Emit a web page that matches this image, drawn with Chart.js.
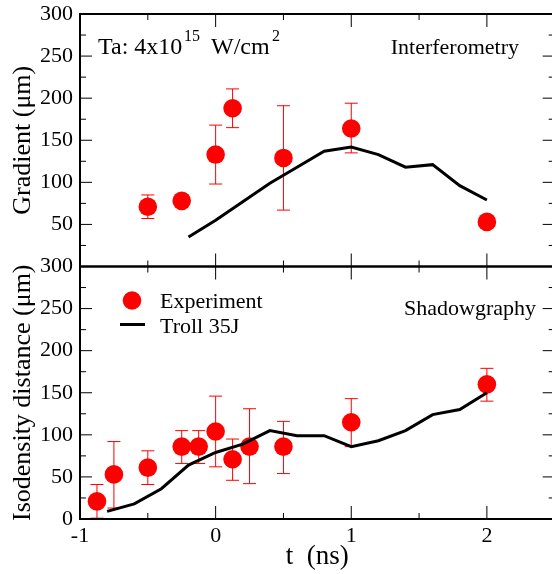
<!DOCTYPE html>
<html><head><meta charset="utf-8">
<script src="https://cdn.jsdelivr.net/npm/chart.js@4.4.0/dist/chart.umd.min.js"></script>
<style>html,body{margin:0;padding:0;background:#fff;overflow:hidden;width:552px;height:574px}canvas{display:block}</style>
</head><body>
<canvas id="c" width="564" height="574"></canvas>
<script>
// ---- data ----
const interfT   = [-0.5, -0.25, 0, 0.125, 0.5, 1, 2];
const interfVal = [71, 78, 133, 188, 129, 164, 53];
const interfLo  = [57, null, 98, 165, 67, 135, null];
const interfHi  = [85, null, 168, 211, 191, 194, null];

const simTopT   = [-0.2, 0, 0.2, 0.4, 0.6, 0.8, 1.0, 1.2, 1.4, 1.6, 1.8, 2.0];
const simTopVal = [35, 55, 77, 99, 118, 137, 142, 133, 118, 121, 96, 79];

const shadT   = [-0.875, -0.75, -0.5, -0.25, -0.125, 0, 0.125, 0.25, 0.5, 1, 2];
const shadVal = [21, 53, 61, 86, 86, 104, 71, 86, 86, 115, 160];
const shadLo  = [1, 13, 41, 66, 66, 62, 46, 42, 54, 86, 140];
const shadHi  = [41, 92, 81, 105, 105, 146, 95, 131, 116, 143, 179];

const simBotT   = [-0.8, -0.6, -0.4, -0.2, 0, 0.2, 0.4, 0.6, 0.8, 1.0, 1.2, 1.4, 1.6, 1.8, 2.0];
const simBotVal = [9, 18, 36, 64, 79, 89, 105, 99, 99, 86, 93, 105, 124, 130, 150];

const xTickVals = [-1, -0.5, 0, 0.5, 1, 1.5, 2, 2.5];
const yTickVals = [0, 25, 50, 75, 100, 125, 150, 175, 200, 225, 250, 275, 300];

const SERIF = "'Liberation Serif', 'DejaVu Serif', serif";
const toPts = (xs, ys) => xs.map((x, i) => ({x: x, y: ys[i]}));

function line(ctx, x1, y1, x2, y2) { ctx.beginPath(); ctx.moveTo(x1, y1); ctx.lineTo(x2, y2); ctx.stroke(); }

function drawErr(chart, ys, ts, lo, hi) {
  const ctx = chart.ctx, xs = chart.scales.x;
  ctx.save();
  ctx.strokeStyle = '#ff0000'; ctx.lineWidth = 1;
  ts.forEach((t, i) => {
    if (lo[i] == null || hi[i] == null) return;
    const x = xs.getPixelForValue(t);
    const y1 = ys.getPixelForValue(lo[i]), y2 = ys.getPixelForValue(hi[i]);
    line(ctx, x, y1, x, y2);
    line(ctx, x - 6.5, y1, x + 6.5, y1);
    line(ctx, x - 6.5, y2, x + 6.5, y2);
  });
  ctx.restore();
}

const framePlugin = {
  id: 'frame',
  beforeDatasetsDraw(chart) {
    drawErr(chart, chart.scales.yTop, interfT, interfLo, interfHi);
    drawErr(chart, chart.scales.yBot, shadT, shadLo, shadHi);
  },
  afterDraw(chart) {
    const ctx = chart.ctx, xs = chart.scales.x, ca = chart.chartArea;
    ctx.save();
    ctx.strokeStyle = '#000';
    for (const ys of [chart.scales.yTop, chart.scales.yBot]) {
      ctx.lineWidth = 1;
      for (const v of yTickVals) {
        const y = ys.getPixelForValue(v);
        const len = v % 50 === 0 ? 12 : 6;
        line(ctx, ca.left, y, ca.left + len, y);
        line(ctx, ca.right, y, ca.right - len, y);
      }
      for (const v of xTickVals) {
        const x = xs.getPixelForValue(v);
        const len = Number.isInteger(v) ? 13 : 6;
        line(ctx, x, ys.top, x, ys.top + len);
        line(ctx, x, ys.bottom, x, ys.bottom - len);
      }
      ctx.lineWidth = 2;
      ctx.strokeRect(ca.left, ys.top, ca.right - ca.left, ys.bottom - ys.top);
    }
    // annotations
    const yt = chart.scales.yTop, yb = chart.scales.yBot;
    ctx.fillStyle = '#000';
    ctx.textBaseline = 'alphabetic';
    ctx.textAlign = 'left';
    const base = yt.top + 40, L = ca.left;
    ctx.font = '24px ' + SERIF;
    ctx.fillText('Ta: 4x10', L + 18, base);
    ctx.fillText('W/cm', L + 131, base);
    ctx.font = '16px ' + SERIF;
    ctx.fillText('15', L + 104, base - 13);
    ctx.fillText('2', L + 192, base - 13);
    ctx.font = '22px ' + SERIF;
    ctx.textAlign = 'right';
    ctx.fillText('Interferometry', L + 439, base);
    ctx.fillText('Shadowgraphy', L + 456, yb.top + 48);
    // legend
    ctx.textAlign = 'left';
    ctx.fillStyle = '#ff0000';
    ctx.beginPath(); ctx.arc(L + 52, yb.top + 34, 9.3, 0, Math.PI * 2); ctx.fill();
    ctx.strokeStyle = '#000'; ctx.lineWidth = 3;
    line(ctx, L + 40, yb.top + 58, L + 65, yb.top + 58);
    ctx.fillStyle = '#000';
    ctx.fillText('Experiment', L + 80, yb.top + 41);
    ctx.fillText('Troll 35J', L + 80, yb.top + 66);
    ctx.restore();
  }
};

const tickFont = {family: SERIF, size: 22};
const titleFont = {family: SERIF, size: 26};

function yScale(title, hideZero) {
  return {
    type: 'linear', position: 'left', stack: 'panels', stackWeight: 1,
    min: 0, max: 300,
    ticks: {stepSize: 50, autoSkip: false, font: tickFont, color: '#000', padding: 7,
            callback: v => (hideZero && v === 0) ? '' : String(v)},
    grid: {display: false, drawTicks: false, tickLength: 0},
    border: {display: false},
    title: {display: true, text: title, font: titleFont, color: '#000', padding: {top: 8, bottom: 8}},
    afterFit(s) { s.width = 80; s.paddingTop = 0; s.paddingBottom = 0; s.paddingLeft = 0; s.paddingRight = 0; }
  };
}

new Chart(document.getElementById('c'), {
  type: 'scatter',
  data: {
    datasets: [
      {label: 'Troll top', data: toPts(simTopT, simTopVal), yAxisID: 'yTop', showLine: true,
       borderColor: '#000', borderWidth: 3, pointRadius: 0, tension: 0, order: 0},
      {label: 'Troll bottom', data: toPts(simBotT, simBotVal), yAxisID: 'yBot', showLine: true,
       borderColor: '#000', borderWidth: 3, pointRadius: 0, tension: 0, order: 0},
      {label: 'Interferometry', data: toPts(interfT, interfVal), yAxisID: 'yTop',
       backgroundColor: '#ff0000', borderWidth: 0, pointRadius: 9.3, order: 1},
      {label: 'Shadowgraphy', data: toPts(shadT, shadVal), yAxisID: 'yBot',
       backgroundColor: '#ff0000', borderWidth: 0, pointRadius: 9.3, order: 1}
    ]
  },
  options: {
    responsive: false, animation: false, devicePixelRatio: 1,
    layout: {padding: {top: 14, right: 6, left: 0, bottom: 0}},
    plugins: {legend: {display: false}, tooltip: {enabled: false}},
    scales: {
      x: {
        type: 'linear', position: 'bottom', min: -1, max: 2.5,
        ticks: {stepSize: 0.5, autoSkip: false, maxRotation: 0, font: tickFont, color: '#000', padding: 4,
                callback: v => Number.isInteger(v) ? String(v) : ''},
        grid: {display: false, drawTicks: false, tickLength: 0},
        border: {display: false},
        title: {display: true, text: 't  (ns)', font: {family: SERIF, size: 27}, color: '#000', padding: {top: 1, bottom: 1}},
        afterFit(s) { s.height = 55; s.paddingTop = 0; s.paddingBottom = 0; s.paddingLeft = 0; s.paddingRight = 0; }
      },
      yBot: yScale('Isodensity distance (μm)', false),
      yTop: yScale('Gradient (μm)', true)
    }
  },
  plugins: [framePlugin]
});
</script>
</body></html>
